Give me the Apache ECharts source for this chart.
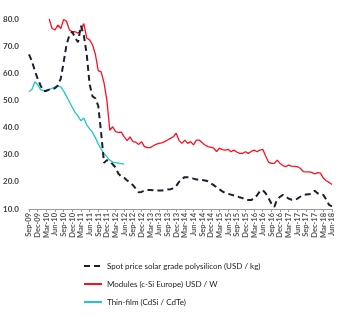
<!DOCTYPE html>
<html><head><meta charset="utf-8">
<script src="https://cdn.jsdelivr.net/npm/echarts@6/dist/echarts.min.js"></script>
<style>html,body{margin:0;padding:0;background:#fff}#c{width:350px;height:321px}</style>
</head><body><div id="c"></div>
<script>
// Monthly categories Sep-09 .. Jun-18
const months = ['Jan','Feb','Mar','Apr','May','Jun','Jul','Aug','Sep','Oct','Nov','Dec'];
const categories = [];
for (let y = 2009, m = 8; !(y === 2018 && m === 6); ) {
  categories.push(months[m] + '-' + String(y % 100).padStart(2, '0'));
  m++; if (m === 12) { m = 0; y++; }
}
const spotPoly = [67.0,64.5,61.0,58.0,55.5,53.5,53.5,54.0,54.0,54.5,55.5,58.0,64.0,70.5,74.0,75.3,73.0,71.5,77.5,74.0,
  67.0,56.0,51.5,50.8,48.0,38.0,27.0,28.0,27.5,26.5,25.3,23.0,22.0,21.5,20.5,19.8,18.8,17.5,16.2,16.3,
  16.8,17.0,17.0,16.9,16.8,16.8,16.8,17.0,17.2,17.3,17.6,18.5,20.0,21.2,21.7,21.7,21.5,21.2,20.9,20.8,
  20.7,20.5,20.2,19.5,18.8,18.0,17.2,16.5,15.9,15.6,15.3,15.0,14.7,14.3,14.0,13.4,13.3,13.3,14.0,15.0,
  16.5,17.0,15.8,14.0,12.0,10.8,13.5,14.5,15.2,14.6,13.8,13.4,13.3,13.8,14.5,15.2,15.3,15.4,15.8,16.7,
  15.8,15.3,15.2,13.5,11.5,11.0];
const modules = [null,null,null,null,null,null,null,80.0,76.5,76.0,77.8,76.5,79.8,79.2,76.0,75.3,75.3,74.8,76.0,78.3,
  73.0,72.3,70.5,67.0,61.0,60.5,56.5,50.0,39.0,40.3,38.5,38.2,38.3,36.6,35.2,36.6,34.8,34.6,33.8,34.8,
  33.0,32.6,32.6,33.2,33.8,34.2,34.4,34.8,35.4,36.0,36.6,37.9,35.2,34.2,35.4,34.2,34.8,33.6,35.4,35.4,
  34.4,33.6,33.0,32.8,32.4,31.2,32.4,31.9,31.7,32.0,31.1,31.7,31.0,30.5,30.5,31.1,30.5,31.2,31.7,31.1,
  31.7,32.0,29.5,27.3,26.8,26.8,28.0,26.8,26.0,25.6,26.2,25.8,25.7,25.6,25.0,23.8,23.7,23.7,23.5,22.9,
  23.4,23.2,21.4,20.4,19.8,19.0];
const thinFilm = [53.2,54.0,56.9,55.8,54.0,53.6,53.8,54.0,54.5,55.0,55.3,55.0,53.5,51.5,49.5,47.5,45.5,44.2,42.5,43.5,
  41.0,39.5,38.3,36.3,34.0,32.0,30.5,29.2,28.0,27.3,27.1,26.9,26.7,26.5];
const seriesNames = ['Spot price solar grade polysilicon (USD / kg)','Modules (c-Si Europe) USD / W','Thin-film (CdSi / CdTe)'];
const yTicks = {min:10, max:80, interval:10};

const chart = echarts.init(document.getElementById('c'), null, {renderer:'canvas'});
const font = 'Lato, "Open Sans", sans-serif';
chart.setOption({
  animation:false,
  grid:{left:28, right:18, top:19, bottom:112, containLabel:false},
  legend:{
    orient:'vertical', left:83, top:262, padding:0, itemGap:10, itemWidth:18, itemHeight:8,
    itemStyle:{opacity:0},
    textStyle:{fontSize:8, color:'#1a1a1a', fontFamily:font},
    data:seriesNames
  },
  xAxis:{
    type:'category', data:categories, boundaryGap:false,
    axisLine:{lineStyle:{color:'#9a9a9a', width:1}},
    axisTick:{interval:2, length:3, lineStyle:{color:'#9a9a9a'}},
    axisLabel:{interval:2, rotate:90, fontSize:7.5, color:'#595959', fontFamily:font, margin:4, fontWeight:'bold'}
  },
  yAxis:{
    type:'value', min:yTicks.min, max:yTicks.max, interval:yTicks.interval,
    splitLine:{show:false}, axisLine:{show:false}, axisTick:{show:false},
    axisLabel:{formatter:v=>v.toFixed(1), fontSize:8, color:'#404040', fontFamily:font, fontWeight:'bold', align:'left', margin:26}
  },
  series:[
    {name:seriesNames[0], type:'line', data:spotPoly, symbol:'none', connectNulls:false,
     lineStyle:{color:'#1c1f2e', width:2, type:[6,4]}, itemStyle:{color:'#1c1f2e'}, z:3},
    {name:seriesNames[1], type:'line', data:modules, symbol:'none',
     lineStyle:{color:'#ff1020', width:1.3}, itemStyle:{color:'#ff1020'}, z:2},
    {name:seriesNames[2], type:'line', data:thinFilm, symbol:'none',
     lineStyle:{color:'#1ec8cc', width:1.3}, itemStyle:{color:'#1ec8cc'}, z:2}
  ]
});
</script></body></html>
